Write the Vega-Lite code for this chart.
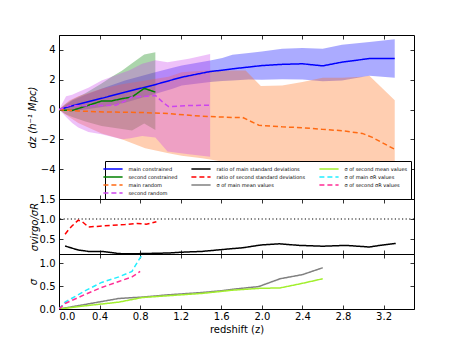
{
  "$schema": "https://vega.github.io/schema/vega-lite/v6.json",
  "padding": {"left": 26, "top": 34, "right": 0, "bottom": 0},
  "spacing": 0,
  "bounds": "flush",
  "background": "#ffffff",
  "resolve": {"scale": {"color": "shared", "strokeDash": "shared"}},
  "datasets": {
    "bands": [
      {"s": "main constrained", "z": 0, "lo": 0, "hi": 0},
      {"s": "main constrained", "z": 0.13, "lo": -0.1, "hi": 0.6},
      {"s": "main constrained", "z": 0.26, "lo": 0.0, "hi": 1.0},
      {"s": "main constrained", "z": 0.46, "lo": 0.2, "hi": 1.5},
      {"s": "main constrained", "z": 0.65, "lo": 0.45, "hi": 1.95},
      {"s": "main constrained", "z": 0.92, "lo": 1.0, "hi": 2.45},
      {"s": "main constrained", "z": 1.12, "lo": 1.4, "hi": 2.8},
      {"s": "main constrained", "z": 1.21, "lo": 1.62, "hi": 2.95},
      {"s": "main constrained", "z": 1.49, "lo": 1.84, "hi": 3.29},
      {"s": "main constrained", "z": 1.61, "lo": 1.92, "hi": 3.45},
      {"s": "main constrained", "z": 1.71, "lo": 1.95, "hi": 3.67},
      {"s": "main constrained", "z": 1.87, "lo": 2.02, "hi": 3.8},
      {"s": "main constrained", "z": 2.0, "lo": 2.0, "hi": 3.89},
      {"s": "main constrained", "z": 2.2, "lo": 2.04, "hi": 4.07},
      {"s": "main constrained", "z": 2.4, "lo": 2.02, "hi": 4.13},
      {"s": "main constrained", "z": 2.6, "lo": 1.89, "hi": 4.07},
      {"s": "main constrained", "z": 2.79, "lo": 1.95, "hi": 4.35},
      {"s": "main constrained", "z": 3.06, "lo": 2.27, "hi": 4.53},
      {"s": "main constrained", "z": 3.31, "lo": 2.13, "hi": 4.71},
      {"s": "second constrained", "z": 0, "lo": 0, "hi": 0},
      {"s": "second constrained", "z": 0.06, "lo": -0.3, "hi": 0.35},
      {"s": "second constrained", "z": 0.13, "lo": -0.5, "hi": 0.65},
      {"s": "second constrained", "z": 0.26, "lo": -0.8, "hi": 1.1},
      {"s": "second constrained", "z": 0.42, "lo": -1.1, "hi": 1.75},
      {"s": "second constrained", "z": 0.52, "lo": -1.2, "hi": 2.2},
      {"s": "second constrained", "z": 0.62, "lo": -1.3, "hi": 2.6},
      {"s": "second constrained", "z": 0.72, "lo": -1.4, "hi": 3.1},
      {"s": "second constrained", "z": 0.84, "lo": -0.93, "hi": 3.7},
      {"s": "second constrained", "z": 0.95, "lo": -1.38, "hi": 3.84},
      {"s": "main random", "z": 0, "lo": 0, "hi": 0},
      {"s": "main random", "z": 0.1, "lo": -0.5, "hi": 0.6},
      {"s": "main random", "z": 0.19, "lo": -0.9, "hi": 0.9},
      {"s": "main random", "z": 0.42, "lo": -1.6, "hi": 1.4},
      {"s": "main random", "z": 0.62, "lo": -2.0, "hi": 1.7},
      {"s": "main random", "z": 0.85, "lo": -2.6, "hi": 1.95},
      {"s": "main random", "z": 1.08, "lo": -2.93, "hi": 2.2},
      {"s": "main random", "z": 1.21, "lo": -3.1, "hi": 2.5},
      {"s": "main random", "z": 1.41, "lo": -3.27, "hi": 2.6},
      {"s": "main random", "z": 1.49, "lo": -3.35, "hi": 2.62},
      {"s": "main random", "z": 1.71, "lo": -3.6, "hi": 2.62},
      {"s": "main random", "z": 1.84, "lo": -3.75, "hi": 2.62},
      {"s": "main random", "z": 1.99, "lo": -4.0, "hi": 1.58},
      {"s": "main random", "z": 2.2, "lo": -4.3, "hi": 1.62},
      {"s": "main random", "z": 2.4, "lo": -4.6, "hi": 1.84},
      {"s": "main random", "z": 2.6, "lo": -4.9, "hi": 2.13},
      {"s": "main random", "z": 2.79, "lo": -5.2, "hi": 2.13},
      {"s": "main random", "z": 2.99, "lo": -5.5, "hi": 2.2},
      {"s": "main random", "z": 3.06, "lo": -5.6, "hi": 2.27},
      {"s": "main random", "z": 3.31, "lo": -6.0, "hi": 0.62},
      {"s": "second random", "z": 0, "lo": 0, "hi": 0},
      {"s": "second random", "z": 0.07, "lo": -0.5, "hi": 0.9},
      {"s": "second random", "z": 0.13, "lo": -0.9, "hi": 1.0},
      {"s": "second random", "z": 0.19, "lo": -1.2, "hi": 1.18},
      {"s": "second random", "z": 0.29, "lo": -1.5, "hi": 1.47},
      {"s": "second random", "z": 0.42, "lo": -1.65, "hi": 1.95},
      {"s": "second random", "z": 0.62, "lo": -2.0, "hi": 2.45},
      {"s": "second random", "z": 0.69, "lo": -1.95, "hi": 2.62},
      {"s": "second random", "z": 0.82, "lo": -1.78, "hi": 3.07},
      {"s": "second random", "z": 0.95, "lo": -1.87, "hi": 3.3},
      {"s": "second random", "z": 1.07, "lo": -2.82, "hi": 3.18},
      {"s": "second random", "z": 1.28, "lo": -3.0, "hi": 3.4},
      {"s": "second random", "z": 1.49, "lo": -3.16, "hi": 3.73}
    ],
    "lines": [
      {"panel": "top", "s": "main constrained", "z": 0, "v": 0},
      {"panel": "top", "s": "main constrained", "z": 0.13, "v": 0.25},
      {"panel": "top", "s": "main constrained", "z": 0.26, "v": 0.48},
      {"panel": "top", "s": "main constrained", "z": 0.46, "v": 0.82},
      {"panel": "top", "s": "main constrained", "z": 0.65, "v": 1.17},
      {"panel": "top", "s": "main constrained", "z": 0.92, "v": 1.62},
      {"panel": "top", "s": "main constrained", "z": 1.12, "v": 2.0},
      {"panel": "top", "s": "main constrained", "z": 1.21, "v": 2.17},
      {"panel": "top", "s": "main constrained", "z": 1.49, "v": 2.55},
      {"panel": "top", "s": "main constrained", "z": 1.61, "v": 2.64},
      {"panel": "top", "s": "main constrained", "z": 1.71, "v": 2.73},
      {"panel": "top", "s": "main constrained", "z": 1.87, "v": 2.85},
      {"panel": "top", "s": "main constrained", "z": 2.0, "v": 2.95},
      {"panel": "top", "s": "main constrained", "z": 2.2, "v": 3.03},
      {"panel": "top", "s": "main constrained", "z": 2.4, "v": 3.07},
      {"panel": "top", "s": "main constrained", "z": 2.6, "v": 2.93},
      {"panel": "top", "s": "main constrained", "z": 2.79, "v": 3.18},
      {"panel": "top", "s": "main constrained", "z": 3.06, "v": 3.42},
      {"panel": "top", "s": "main constrained", "z": 3.31, "v": 3.42},
      {"panel": "top", "s": "second constrained", "z": 0, "v": 0},
      {"panel": "top", "s": "second constrained", "z": 0.06, "v": -0.05},
      {"panel": "top", "s": "second constrained", "z": 0.13, "v": -0.06},
      {"panel": "top", "s": "second constrained", "z": 0.26, "v": 0.22},
      {"panel": "top", "s": "second constrained", "z": 0.42, "v": 0.57},
      {"panel": "top", "s": "second constrained", "z": 0.52, "v": 0.58},
      {"panel": "top", "s": "second constrained", "z": 0.62, "v": 0.73},
      {"panel": "top", "s": "second constrained", "z": 0.72, "v": 0.84},
      {"panel": "top", "s": "second constrained", "z": 0.84, "v": 1.42},
      {"panel": "top", "s": "second constrained", "z": 0.95, "v": 1.17},
      {"panel": "top", "s": "main random", "z": 0, "v": 0},
      {"panel": "top", "s": "main random", "z": 0.1, "v": -0.05},
      {"panel": "top", "s": "main random", "z": 0.19, "v": -0.1},
      {"panel": "top", "s": "main random", "z": 0.45, "v": -0.16},
      {"panel": "top", "s": "main random", "z": 0.82, "v": -0.2},
      {"panel": "top", "s": "main random", "z": 1.08, "v": -0.27},
      {"panel": "top", "s": "main random", "z": 1.41, "v": -0.45},
      {"panel": "top", "s": "main random", "z": 1.71, "v": -0.53},
      {"panel": "top", "s": "main random", "z": 1.81, "v": -0.53},
      {"panel": "top", "s": "main random", "z": 1.97, "v": -1.05},
      {"panel": "top", "s": "main random", "z": 2.2, "v": -1.16},
      {"panel": "top", "s": "main random", "z": 2.4, "v": -1.22},
      {"panel": "top", "s": "main random", "z": 2.6, "v": -1.33},
      {"panel": "top", "s": "main random", "z": 2.79, "v": -1.42},
      {"panel": "top", "s": "main random", "z": 2.99, "v": -1.6},
      {"panel": "top", "s": "main random", "z": 3.09, "v": -1.87},
      {"panel": "top", "s": "main random", "z": 3.31, "v": -2.67},
      {"panel": "top", "s": "second random", "z": 0, "v": 0},
      {"panel": "top", "s": "second random", "z": 0.1, "v": 0.27},
      {"panel": "top", "s": "second random", "z": 0.26, "v": 0.25},
      {"panel": "top", "s": "second random", "z": 0.56, "v": 0.29},
      {"panel": "top", "s": "second random", "z": 0.66, "v": 0.6},
      {"panel": "top", "s": "second random", "z": 0.72, "v": 0.84},
      {"panel": "top", "s": "second random", "z": 0.82, "v": 0.87},
      {"panel": "top", "s": "second random", "z": 0.95, "v": 0.95},
      {"panel": "top", "s": "second random", "z": 1.03, "v": 0.45},
      {"panel": "top", "s": "second random", "z": 1.08, "v": 0.2},
      {"panel": "top", "s": "second random", "z": 1.28, "v": 0.27},
      {"panel": "top", "s": "second random", "z": 1.49, "v": 0.29},
      {"panel": "mid", "s": "ratio of main standard deviations", "z": 0.06, "v": 0.325},
      {"panel": "mid", "s": "ratio of main standard deviations", "z": 0.13, "v": 0.27},
      {"panel": "mid", "s": "ratio of main standard deviations", "z": 0.19, "v": 0.225},
      {"panel": "mid", "s": "ratio of main standard deviations", "z": 0.29, "v": 0.19},
      {"panel": "mid", "s": "ratio of main standard deviations", "z": 0.42, "v": 0.19},
      {"panel": "mid", "s": "ratio of main standard deviations", "z": 0.52, "v": 0.16},
      {"panel": "mid", "s": "ratio of main standard deviations", "z": 0.59, "v": 0.135},
      {"panel": "mid", "s": "ratio of main standard deviations", "z": 0.72, "v": 0.13},
      {"panel": "mid", "s": "ratio of main standard deviations", "z": 0.9, "v": 0.14},
      {"panel": "mid", "s": "ratio of main standard deviations", "z": 1.08, "v": 0.15},
      {"panel": "mid", "s": "ratio of main standard deviations", "z": 1.21, "v": 0.17},
      {"panel": "mid", "s": "ratio of main standard deviations", "z": 1.41, "v": 0.19},
      {"panel": "mid", "s": "ratio of main standard deviations", "z": 1.54, "v": 0.22},
      {"panel": "mid", "s": "ratio of main standard deviations", "z": 1.71, "v": 0.26},
      {"panel": "mid", "s": "ratio of main standard deviations", "z": 1.81, "v": 0.28},
      {"panel": "mid", "s": "ratio of main standard deviations", "z": 1.99, "v": 0.35},
      {"panel": "mid", "s": "ratio of main standard deviations", "z": 2.17, "v": 0.38},
      {"panel": "mid", "s": "ratio of main standard deviations", "z": 2.37, "v": 0.34},
      {"panel": "mid", "s": "ratio of main standard deviations", "z": 2.6, "v": 0.32},
      {"panel": "mid", "s": "ratio of main standard deviations", "z": 2.83, "v": 0.34},
      {"panel": "mid", "s": "ratio of main standard deviations", "z": 3.06, "v": 0.3},
      {"panel": "mid", "s": "ratio of main standard deviations", "z": 3.19, "v": 0.35},
      {"panel": "mid", "s": "ratio of main standard deviations", "z": 3.32, "v": 0.39},
      {"panel": "mid", "s": "ratio of second standard deviations", "z": 0.06, "v": 0.62},
      {"panel": "mid", "s": "ratio of second standard deviations", "z": 0.1, "v": 0.75},
      {"panel": "mid", "s": "ratio of second standard deviations", "z": 0.13, "v": 0.83},
      {"panel": "mid", "s": "ratio of second standard deviations", "z": 0.19, "v": 0.97},
      {"panel": "mid", "s": "ratio of second standard deviations", "z": 0.23, "v": 0.93},
      {"panel": "mid", "s": "ratio of second standard deviations", "z": 0.29, "v": 0.8},
      {"panel": "mid", "s": "ratio of second standard deviations", "z": 0.4, "v": 0.82},
      {"panel": "mid", "s": "ratio of second standard deviations", "z": 0.52, "v": 0.84},
      {"panel": "mid", "s": "ratio of second standard deviations", "z": 0.65, "v": 0.86},
      {"panel": "mid", "s": "ratio of second standard deviations", "z": 0.77, "v": 0.89},
      {"panel": "mid", "s": "ratio of second standard deviations", "z": 0.86, "v": 0.87},
      {"panel": "mid", "s": "ratio of second standard deviations", "z": 0.96, "v": 0.93},
      {"panel": "bot", "s": "σ of main mean values", "z": 0, "v": 0},
      {"panel": "bot", "s": "σ of main mean values", "z": 0.26, "v": 0.1},
      {"panel": "bot", "s": "σ of main mean values", "z": 0.59, "v": 0.23},
      {"panel": "bot", "s": "σ of main mean values", "z": 0.82, "v": 0.26},
      {"panel": "bot", "s": "σ of main mean values", "z": 1.08, "v": 0.31},
      {"panel": "bot", "s": "σ of main mean values", "z": 1.41, "v": 0.36},
      {"panel": "bot", "s": "σ of main mean values", "z": 1.61, "v": 0.4},
      {"panel": "bot", "s": "σ of main mean values", "z": 1.71, "v": 0.43},
      {"panel": "bot", "s": "σ of main mean values", "z": 1.97, "v": 0.49},
      {"panel": "bot", "s": "σ of main mean values", "z": 2.18, "v": 0.66},
      {"panel": "bot", "s": "σ of main mean values", "z": 2.4, "v": 0.75},
      {"panel": "bot", "s": "σ of main mean values", "z": 2.6, "v": 0.9},
      {"panel": "bot", "s": "σ of second mean values", "z": 0, "v": 0},
      {"panel": "bot", "s": "σ of second mean values", "z": 0.26, "v": 0.07},
      {"panel": "bot", "s": "σ of second mean values", "z": 0.59, "v": 0.15},
      {"panel": "bot", "s": "σ of second mean values", "z": 0.82, "v": 0.25},
      {"panel": "bot", "s": "σ of second mean values", "z": 1.08, "v": 0.29},
      {"panel": "bot", "s": "σ of second mean values", "z": 1.41, "v": 0.34},
      {"panel": "bot", "s": "σ of second mean values", "z": 1.71, "v": 0.41},
      {"panel": "bot", "s": "σ of second mean values", "z": 1.97, "v": 0.45},
      {"panel": "bot", "s": "σ of second mean values", "z": 2.18, "v": 0.46},
      {"panel": "bot", "s": "σ of second mean values", "z": 2.4, "v": 0.56},
      {"panel": "bot", "s": "σ of second mean values", "z": 2.6, "v": 0.66},
      {"panel": "bot", "s": "σ of main σR values", "z": 0, "v": 0},
      {"panel": "bot", "s": "σ of main σR values", "z": 0.01, "v": 0.03},
      {"panel": "bot", "s": "σ of main σR values", "z": 0.06, "v": 0.15},
      {"panel": "bot", "s": "σ of main σR values", "z": 0.26, "v": 0.4},
      {"panel": "bot", "s": "σ of main σR values", "z": 0.42, "v": 0.58},
      {"panel": "bot", "s": "σ of main σR values", "z": 0.59, "v": 0.7},
      {"panel": "bot", "s": "σ of main σR values", "z": 0.72, "v": 0.82},
      {"panel": "bot", "s": "σ of main σR values", "z": 0.74, "v": 0.9},
      {"panel": "bot", "s": "σ of main σR values", "z": 0.8, "v": 1.12},
      {"panel": "bot", "s": "σ of main σR values", "z": 0.82, "v": 1.17},
      {"panel": "bot", "s": "σ of second σR values", "z": 0, "v": 0},
      {"panel": "bot", "s": "σ of second σR values", "z": 0.01, "v": 0.02},
      {"panel": "bot", "s": "σ of second σR values", "z": 0.06, "v": 0.12},
      {"panel": "bot", "s": "σ of second σR values", "z": 0.26, "v": 0.32},
      {"panel": "bot", "s": "σ of second σR values", "z": 0.42, "v": 0.47},
      {"panel": "bot", "s": "σ of second σR values", "z": 0.59, "v": 0.6},
      {"panel": "bot", "s": "σ of second σR values", "z": 0.72, "v": 0.7},
      {"panel": "bot", "s": "σ of second σR values", "z": 0.8, "v": 0.82}
    ]
  },
  "vconcat": [
    {
      "width": 355,
      "height": 164,
      "layer": [
        {
          "data": {"name": "bands"},
          "mark": {"type": "area", "opacity": 0.33, "clip": true},
          "encoding": {
            "x": {"field": "z", "type": "quantitative", "scale": {"domain": [0, 3.5], "nice": false},
                  "axis": {"orient": "bottom", "values": [0, 0.4, 0.8, 1.2, 1.6, 2.0, 2.4, 2.8, 3.2], "labels": false, "title": null}},
            "y": {"field": "lo", "type": "quantitative", "scale": {"domain": [-6, 5], "nice": false, "zero": false},
                  "axis": {"orient": "left", "values": [-4, -2, 0, 2, 4], "format": "d", "title": "dz (h⁻¹ Mpc)", "titlePadding": 3}},
            "y2": {"field": "hi"},
            "fill": {"field": "s", "type": "nominal",
              "scale": {"domain": ["main constrained", "second constrained", "main random", "second random"],
                        "range": ["#0000ff", "#008000", "#ff6a13", "#cc44ee"]},
              "legend": null}
          }
        },
        {
          "data": {"name": "lines"},
          "transform": [{"filter": "datum.panel == 'top'"}],
          "mark": {"type": "line", "strokeWidth": 1.5, "clip": true},
          "encoding": {
            "x": {"field": "z", "type": "quantitative", "scale": {"domain": [0, 3.5], "nice": false},
                  "axis": {"orient": "top", "values": [0, 0.4, 0.8, 1.2, 1.6, 2.0, 2.4, 2.8, 3.2], "labels": false, "title": null}},
            "y": {"field": "v", "type": "quantitative", "scale": {"domain": [-6, 5], "nice": false, "zero": false},
                  "axis": {"orient": "right", "values": [-4, -2, 0, 2, 4], "labels": false, "title": null}},
            "color": {"field": "s", "type": "nominal",
              "scale": {"domain": ["main constrained", "second constrained", "main random", "σ of second σR values", "ratio of main standard deviations", "ratio of second standard deviations", "σ of main mean values", "second random", "σ of second mean values", "σ of main σR values"],
                        "range": ["#0000ff", "#008000", "#ff6a13", "#ff2d95", "#000000", "#ff0000", "#808080", "#cc44ee", "#a2ef2e", "#22eeff"]},
              "legend": {"orient": "none", "legendX": 46, "legendY": 126, "columns": 3, "title": null}},
            "strokeDash": {"field": "s", "type": "nominal",
              "scale": {"domain": ["main constrained", "second constrained", "main random", "σ of second σR values", "ratio of main standard deviations", "ratio of second standard deviations", "σ of main mean values", "second random", "σ of second mean values", "σ of main σR values"],
                        "range": [[1, 0], [1, 0], [5, 3], [5, 3], [1, 0], [5, 3], [1, 0], [5, 3], [1, 0], [5, 3]]},
              "legend": {"orient": "none", "legendX": 46, "legendY": 126, "columns": 3, "title": null}}
          }
        }
      ],
      "resolve": {"axis": {"x": "independent", "y": "independent"}}
    },
    {
      "width": 355,
      "height": 55,
      "layer": [
        {
          "data": {"values": [{"ref": 1}]},
          "mark": {"type": "rule", "color": "#000000", "strokeWidth": 1.2, "strokeDash": [1.2, 2.4]},
          "encoding": {
            "y": {"field": "ref", "type": "quantitative", "scale": {"domain": [0.125, 1.5], "nice": false, "zero": false}, "axis": null}
          }
        },
        {
          "data": {"name": "lines"},
          "transform": [{"filter": "datum.s == 'ratio of main standard deviations'"}],
          "mark": {"type": "line", "strokeWidth": 1.5, "clip": true},
          "encoding": {
            "x": {"field": "z", "type": "quantitative", "scale": {"domain": [0, 3.5], "nice": false},
                  "axis": {"orient": "bottom", "values": [0, 0.4, 0.8, 1.2, 1.6, 2.0, 2.4, 2.8, 3.2], "labels": false, "title": null}},
            "y": {"field": "v", "type": "quantitative", "scale": {"domain": [0.125, 1.5], "nice": false, "zero": false},
                  "axis": {"orient": "left", "values": [0.5, 1.0, 1.5], "format": ".1f", "title": "σvirgo/σR", "titlePadding": 0}},
            "color": {"field": "s", "type": "nominal",
              "scale": {"domain": ["main constrained", "second constrained", "main random", "σ of second σR values", "ratio of main standard deviations", "ratio of second standard deviations", "σ of main mean values", "second random", "σ of second mean values", "σ of main σR values"],
                        "range": ["#0000ff", "#008000", "#ff6a13", "#ff2d95", "#000000", "#ff0000", "#808080", "#cc44ee", "#a2ef2e", "#22eeff"]}},
            "strokeDash": {"field": "s", "type": "nominal",
              "scale": {"domain": ["main constrained", "second constrained", "main random", "σ of second σR values", "ratio of main standard deviations", "ratio of second standard deviations", "σ of main mean values", "second random", "σ of second mean values", "σ of main σR values"],
                        "range": [[1, 0], [1, 0], [5, 3], [5, 3], [1, 0], [5, 3], [1, 0], [5, 3], [1, 0], [5, 3]]}}
          }
        },
        {
          "data": {"name": "lines"},
          "transform": [{"filter": "datum.s == 'ratio of second standard deviations'"}],
          "mark": {"type": "line", "strokeWidth": 1.5, "clip": true},
          "encoding": {
            "x": {"field": "z", "type": "quantitative", "scale": {"domain": [0, 3.5], "nice": false},
                  "axis": {"orient": "top", "values": [0, 0.4, 0.8, 1.2, 1.6, 2.0, 2.4, 2.8, 3.2], "labels": false, "title": null}},
            "y": {"field": "v", "type": "quantitative", "scale": {"domain": [0.125, 1.5], "nice": false, "zero": false},
                  "axis": {"orient": "right", "values": [0.5, 1.0, 1.5], "labels": false, "title": null}},
            "color": {"field": "s", "type": "nominal",
              "scale": {"domain": ["main constrained", "second constrained", "main random", "σ of second σR values", "ratio of main standard deviations", "ratio of second standard deviations", "σ of main mean values", "second random", "σ of second mean values", "σ of main σR values"],
                        "range": ["#0000ff", "#008000", "#ff6a13", "#ff2d95", "#000000", "#ff0000", "#808080", "#cc44ee", "#a2ef2e", "#22eeff"]}},
            "strokeDash": {"field": "s", "type": "nominal",
              "scale": {"domain": ["main constrained", "second constrained", "main random", "σ of second σR values", "ratio of main standard deviations", "ratio of second standard deviations", "σ of main mean values", "second random", "σ of second mean values", "σ of main σR values"],
                        "range": [[1, 0], [1, 0], [5, 3], [5, 3], [1, 0], [5, 3], [1, 0], [5, 3], [1, 0], [5, 3]]}}
          }
        }
      ],
      "resolve": {"axis": {"x": "independent", "y": "independent"}}
    },
    {
      "width": 355,
      "height": 55,
      "layer": [
        {
          "data": {"name": "lines"},
          "transform": [{"filter": "datum.panel == 'bot' && indexof(datum.s, 'mean') >= 0"}],
          "mark": {"type": "line", "strokeWidth": 1.5, "clip": true},
          "encoding": {
            "x": {"field": "z", "type": "quantitative", "scale": {"domain": [0, 3.5], "nice": false},
                  "axis": {"orient": "bottom", "values": [0, 0.4, 0.8, 1.2, 1.6, 2.0, 2.4, 2.8, 3.2], "format": ".1f", "title": "redshift (z)", "labelPadding": 2, "titlePadding": 3}},
            "y": {"field": "v", "type": "quantitative", "scale": {"domain": [0, 1.2], "nice": false},
                  "axis": {"orient": "left", "values": [0, 0.5, 1.0], "format": ".1f", "title": "σ", "titlePadding": 1}},
            "color": {"field": "s", "type": "nominal",
              "scale": {"domain": ["main constrained", "second constrained", "main random", "σ of second σR values", "ratio of main standard deviations", "ratio of second standard deviations", "σ of main mean values", "second random", "σ of second mean values", "σ of main σR values"],
                        "range": ["#0000ff", "#008000", "#ff6a13", "#ff2d95", "#000000", "#ff0000", "#808080", "#cc44ee", "#a2ef2e", "#22eeff"]}},
            "strokeDash": {"field": "s", "type": "nominal",
              "scale": {"domain": ["main constrained", "second constrained", "main random", "σ of second σR values", "ratio of main standard deviations", "ratio of second standard deviations", "σ of main mean values", "second random", "σ of second mean values", "σ of main σR values"],
                        "range": [[1, 0], [1, 0], [5, 3], [5, 3], [1, 0], [5, 3], [1, 0], [5, 3], [1, 0], [5, 3]]}}
          }
        },
        {
          "data": {"name": "lines"},
          "transform": [{"filter": "datum.panel == 'bot' && indexof(datum.s, 'mean') < 0"}],
          "mark": {"type": "line", "strokeWidth": 1.5, "clip": true},
          "encoding": {
            "x": {"field": "z", "type": "quantitative", "scale": {"domain": [0, 3.5], "nice": false},
                  "axis": {"orient": "top", "values": [0, 0.4, 0.8, 1.2, 1.6, 2.0, 2.4, 2.8, 3.2], "labels": false, "title": null}},
            "y": {"field": "v", "type": "quantitative", "scale": {"domain": [0, 1.2], "nice": false},
                  "axis": {"orient": "right", "values": [0, 0.5, 1.0], "labels": false, "title": null}},
            "color": {"field": "s", "type": "nominal",
              "scale": {"domain": ["main constrained", "second constrained", "main random", "σ of second σR values", "ratio of main standard deviations", "ratio of second standard deviations", "σ of main mean values", "second random", "σ of second mean values", "σ of main σR values"],
                        "range": ["#0000ff", "#008000", "#ff6a13", "#ff2d95", "#000000", "#ff0000", "#808080", "#cc44ee", "#a2ef2e", "#22eeff"]}},
            "strokeDash": {"field": "s", "type": "nominal",
              "scale": {"domain": ["main constrained", "second constrained", "main random", "σ of second σR values", "ratio of main standard deviations", "ratio of second standard deviations", "σ of main mean values", "second random", "σ of second mean values", "σ of main σR values"],
                        "range": [[1, 0], [1, 0], [5, 3], [5, 3], [1, 0], [5, 3], [1, 0], [5, 3], [1, 0], [5, 3]]}}
          }
        }
      ],
      "resolve": {"axis": {"x": "independent", "y": "independent"}}
    }
  ],
  "config": {
    "view": {"stroke": "#000000", "strokeWidth": 1},
    "axis": {
      "domain": false, "grid": false, "offset": -4, "tickSize": 4, "tickColor": "#000000", "tickWidth": 0.8,
      "labelFont": "DejaVu Sans", "labelFontSize": 10, "labelColor": "#000000", "labelPadding": 4,
      "titleFont": "DejaVu Sans", "titleFontSize": 10, "titleColor": "#000000", "titleFontWeight": "normal"
    },
    "axisLeft": {"titleFontStyle": "italic"},
    "legend": {
      "symbolType": "M-2.4,0H2.4", "symbolSize": 64, "symbolStrokeWidth": 1.5, "symbolOpacity": 1,
      "labelFont": "DejaVu Sans", "labelFontSize": 5, "labelColor": "#000000", "labelLimit": 0, "labelOffset": 10.5,
      "rowPadding": 0, "columnPadding": 10, "padding": 3,
      "strokeColor": "#000000", "fillColor": "#ffffff", "cornerRadius": 0
    }
  }
}
